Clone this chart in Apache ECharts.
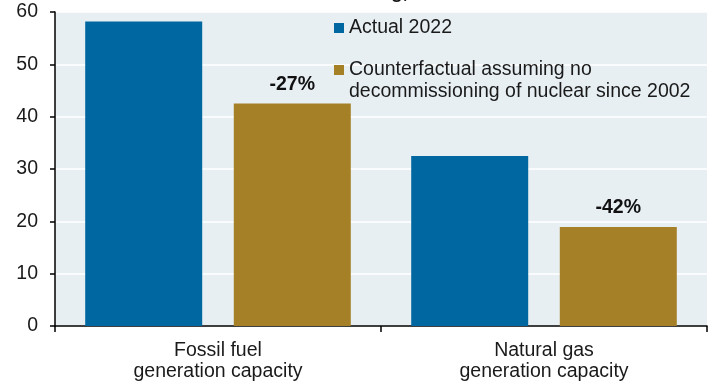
<!DOCTYPE html>
<html>
<head>
<meta charset="utf-8">
<script src="https://cdn.jsdelivr.net/npm/echarts@6/dist/echarts.min.js"></script>
<style>html,body{margin:0;padding:0;background:#fff;}#c{width:710px;height:383px;}</style>
</head>
<body>
<div id="c"></div>
<script>
var categories = ['Fossil fuel\ngeneration capacity', 'Natural gas\ngeneration capacity'];
var seriesNames = ['Actual 2022', 'Counterfactual assuming no\ndecommissioning of nuclear since 2002'];
var actualValues = [58.2, 32.5];
var counterfactualValues = [42.5, 18.9];
var changeLabels = ['-27%', '-42%'];
var titleFragment = 'ng,';

var FONT = 'Liberation Sans, Arial, sans-serif';
var FS = 19.5;
var chart = echarts.init(document.getElementById('c'), null, {renderer: 'canvas'});
chart.setOption({
  animation: false,
  backgroundColor: '#ffffff',
  title: {
    text: titleFragment,
    right: 302,
    top: -17,
    padding: 0,
    textStyle: {fontFamily: FONT, fontSize: 19, fontWeight: 'bold', color: '#111', lineHeight: 20}
  },
  grid: {left: 55, right: 3, top: 12, bottom: 57, show: true, backgroundColor: '#e7eff3', borderWidth: 0,
         containLabel: false, outerBoundsMode: 'none'},
  legend: [{
    data: [seriesNames[0]],
    left: 334, top: 17, padding: 0,
    itemWidth: 10, itemHeight: 10, icon: 'rect', selectedMode: false,
    textStyle: {fontFamily: FONT, fontSize: FS, color: '#1a1a1a', lineHeight: 22}
  }, {
    data: [seriesNames[1]],
    left: 334, top: 59, padding: 0,
    itemWidth: 10, itemHeight: 32, icon: 'path://M0 0H10V10H0Z M0 32', selectedMode: false,
    textStyle: {fontFamily: FONT, fontSize: FS, color: '#1a1a1a', lineHeight: 22}
  }],
  xAxis: {
    type: 'category',
    data: categories,
    axisLine: {lineStyle: {color: '#000', width: 1.5}},
    axisTick: {show: true, length: 6, lineStyle: {color: '#000', width: 1.5}},
    axisLabel: {interval: 0, margin: 14, fontFamily: FONT, fontSize: FS, color: '#1a1a1a', lineHeight: 21}
  },
  yAxis: {
    type: 'value', min: 0, max: 60, interval: 10,
    axisLine: {show: true, lineStyle: {color: '#000', width: 1.5}},
    axisTick: {show: true, length: 5, lineStyle: {color: '#000', width: 1.5}},
    axisLabel: {margin: 17, fontFamily: FONT, fontSize: FS, color: '#1a1a1a'},
    splitLine: {show: true, lineStyle: {color: '#ffffff', width: 1.5}}
  },
  series: [{
    name: seriesNames[0], type: 'bar', data: actualValues,
    barWidth: 117, barGap: '27%',
    itemStyle: {color: '#0067a1'}
  }, {
    name: seriesNames[1], type: 'bar', data: counterfactualValues,
    barWidth: 117, barGap: '27%',
    itemStyle: {color: '#a58027'},
    label: {
      show: true, position: 'top', distance: 9,
      formatter: function (p) { return changeLabels[p.dataIndex]; },
      fontFamily: FONT, fontSize: FS, fontWeight: 'bold', color: '#111'
    }
  }]
});
</script>
</body>
</html>
